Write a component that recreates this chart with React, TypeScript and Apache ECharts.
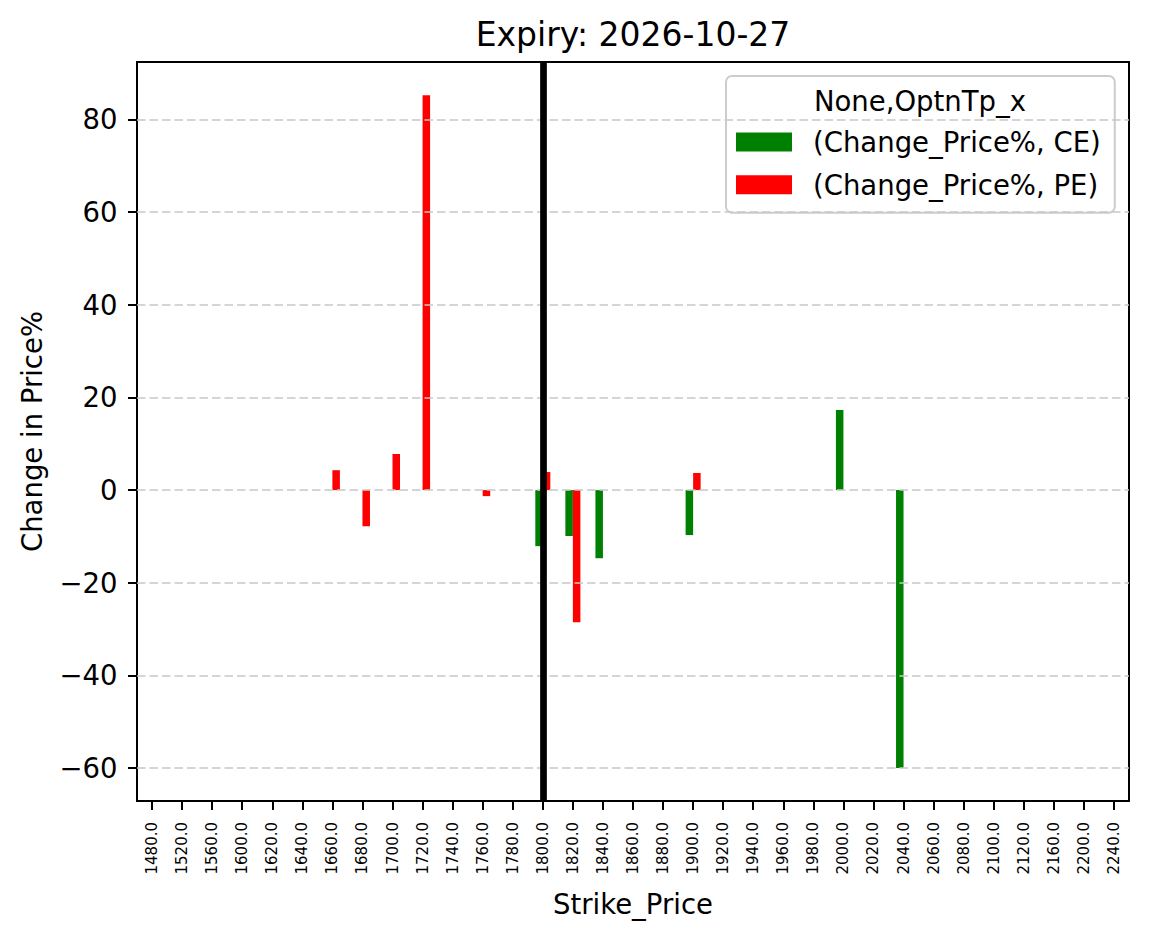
import { useEffect, useRef } from 'react';
import * as echarts from 'echarts';

const strikes = [
  '1480.0', '1520.0', '1560.0', '1600.0', '1620.0', '1640.0', '1660.0', '1680.0', '1700.0',
  '1720.0', '1740.0', '1760.0', '1780.0', '1800.0', '1820.0', '1840.0', '1860.0', '1880.0',
  '1900.0', '1920.0', '1940.0', '1960.0', '1980.0', '2000.0', '2020.0', '2040.0', '2060.0',
  '2080.0', '2100.0', '2120.0', '2160.0', '2200.0', '2240.0',
];

// Change_Price% per strike, null = no bar
const ceChange = [
  null, null, null, null, null, null, null, null, null,
  null, null, null, null, -12.1, -9.9, -14.7, null, null,
  -9.7, null, null, null, null, 17.3, null, -60.0, null,
  null, null, null, null, null, null,
];
const peChange = [
  null, null, null, null, null, null, 4.3, -7.8, 7.8,
  85.2, null, -1.3, null, 3.9, -28.5, null, null, null,
  3.7, null, null, null, null, null, null, null, null,
  null, null, null, null, null, null,
];

const yTicks = [-60, -40, -20, 0, 20, 40, 60, 80];
const yMin = -67.1;
const yMax = 92.4;
const spotStrike = '1800.0';

const FONT = 'DejaVu Sans';

function fmtTick(v: number): string {
  return v < 0 ? '\u2212' + Math.abs(v) : String(v);
}

export default function App() {
  const ref = useRef<HTMLDivElement>(null);

  useEffect(() => {
    if (!ref.current) return;
    const chart = echarts.init(ref.current, undefined, { renderer: 'svg' });

    chart.setOption({
      animation: false,
      backgroundColor: '#ffffff',
      textStyle: { fontFamily: FONT },
      grid: {
        left: 137,
        top: 62,
        width: 992,
        height: 739,
        show: true,
        borderColor: '#000',
        borderWidth: 2,
        backgroundColor: 'transparent',
      },
      legend: {
        left: 726,
        top: 76,
        orient: 'vertical',
        padding: [52, 14, 14, 10],
        itemWidth: 56,
        itemHeight: 19,
        itemGap: 14.7,
        icon: 'rect',
        backgroundColor: 'rgba(255,255,255,0.8)',
        borderColor: '#cccccc',
        borderWidth: 2,
        borderRadius: 6,
        selectedMode: false,
        textStyle: {
          color: '#000',
          fontFamily: FONT,
          fontSize: 27.5,
          lineHeight: 28,
          padding: [0, 0, 0, 16],
        },
        data: ['(Change_Price%, CE)', '(Change_Price%, PE)'],
      },
      graphic: [
        {
          type: 'text',
          x: 633,
          y: 34.6,
          style: {
            text: 'Expiry: 2026-10-27',
            fontFamily: FONT,
            fontSize: 33,
            fill: '#000',
            align: 'center',
            verticalAlign: 'middle',
          },
        },
        {
          type: 'text',
          x: 633,
          y: 903.5,
          style: {
            text: 'Strike_Price',
            fontFamily: FONT,
            fontSize: 27.5,
            fill: '#000',
            align: 'center',
            verticalAlign: 'middle',
          },
        },
        {
          type: 'text',
          x: 31.5,
          y: 431.5,
          rotation: Math.PI / 2,
          style: {
            text: 'Change in Price%',
            fontFamily: FONT,
            fontSize: 27.5,
            fill: '#000',
            align: 'center',
            verticalAlign: 'middle',
          },
        },
        {
          type: 'text',
          x: 920,
          y: 100.5,
          z: 100,
          style: {
            text: 'None,OptnTp_x',
            fontFamily: FONT,
            fontSize: 27.5,
            fill: '#000',
            align: 'center',
            verticalAlign: 'middle',
          },
        },
      ],
      xAxis: {
        type: 'category',
        data: strikes,
        boundaryGap: true,
        axisLine: { show: true, onZero: false, lineStyle: { color: '#000', width: 2 } },
        axisTick: {
          show: true,
          interval: 0,
          alignWithLabel: true,
          length: 9,
          lineStyle: { color: '#000', width: 2 },
        },
        axisLabel: {
          interval: 0,
          rotate: 90,
          margin: 21,
          color: '#000',
          fontFamily: FONT,
          fontSize: 15,
          hideOverlap: false,
        },
        splitLine: { show: false },
      },
      yAxis: {
        type: 'value',
        min: yMin,
        max: yMax,
        axisLine: { show: true, lineStyle: { color: '#000', width: 2 } },
        axisTick: { show: true, customValues: yTicks, length: 9, lineStyle: { color: '#000', width: 2 } },
        axisLabel: {
          customValues: yTicks,
          formatter: (v: number) => fmtTick(v),
          margin: 19.5,
          color: '#000',
          fontFamily: FONT,
          fontSize: 27.5,
        },
        splitLine: { show: false },
      },
      series: [
        {
          name: '(Change_Price%, CE)',
          type: 'bar',
          data: ceChange,
          barWidth: '25%',
          barGap: '0%',
          itemStyle: { color: '#008000' },
        },
        {
          name: '(Change_Price%, PE)',
          type: 'bar',
          data: peChange,
          barWidth: '25%',
          barGap: '0%',
          itemStyle: { color: '#ff0000' },
        },
        {
          name: 'guides',
          type: 'line',
          data: [],
          silent: true,
          z: 5,
          markLine: {
            silent: true,
            symbol: 'none',
            label: { show: false },
            emphasis: { disabled: true },
            data: [
              ...yTicks.map((v) => ({
                yAxis: v,
                lineStyle: { color: '#c8c8c8', width: 1.6, type: [8.5, 4] },
              })),
              {
                xAxis: spotStrike,
                lineStyle: { color: '#000', width: 6.7, type: 'solid' },
              },
            ],
          },
        },
      ],
    });

    return () => {
      chart.dispose();
    };
  }, []);

  return (
    <div
      ref={ref}
      style={{ position: 'fixed', left: 0, top: 0, width: 1149, height: 939, background: '#fff' }}
    />
  );
}
